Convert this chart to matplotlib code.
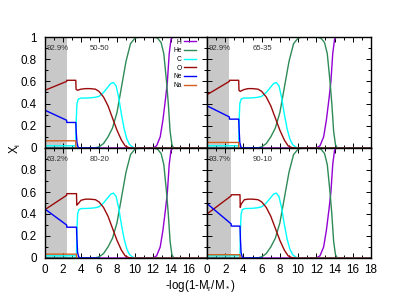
import numpy as np
import matplotlib
matplotlib.use("Agg")
import matplotlib.pyplot as plt
from matplotlib.ticker import MultipleLocator

plt.rcParams["font.family"] = ["Liberation Sans", "DejaVu Sans"]
plt.rcParams["mathtext.fontset"] = "custom"
plt.rcParams["mathtext.rm"] = "Liberation Sans"

# panels: top-left, top-right, bottom-left, bottom-right
mix_labels = ["50-50", "65-35", "80-20", "90-10"]
core_pct = ["92.9%", "92.9%", "63.2%", "93.7%"]
core_edge = [2.4, 2.45, 2.4, 2.65]

# shared outer profiles (He, H)
he_x = [0, 5.5, 6, 6.5, 7, 7.5, 8, 8.5, 9, 9.5, 10, 10.5, 12, 12.5, 12.9, 13.2, 13.5, 13.7, 13.9, 14.1, 14.3, 18]
he_y = [0, 0, 0.01, 0.04, 0.1, 0.18, 0.32, 0.55, 0.78, 0.94, 0.99, 1.0, 1.0, 0.99, 0.95, 0.85, 0.6, 0.4, 0.15, 0.03, 0, 0]
h_x = [0, 12, 12.4, 12.8, 13.1, 13.4, 13.6, 13.8, 14.0, 14.2, 18]
h_y = [0, 0, 0.02, 0.1, 0.25, 0.45, 0.6, 0.85, 0.98, 1.0, 1.0]

# O: per-panel inner part + shared envelope
o_head_x = [[0, 2.4, 2.42, 3.42, 3.45, 3.6, 4.0],
            [0, 2.45, 2.47, 3.48, 3.51, 3.65, 4.0],
            [0, 2.4, 2.42, 3.5, 3.53, 3.65, 4.0],
            [0, 2.65, 2.67, 3.62, 3.65, 3.75, 4.1]]
o_head_y = [[0.52, 0.60, 0.61, 0.61, 0.53, 0.52, 0.53],
            [0.48, 0.60, 0.61, 0.61, 0.52, 0.51, 0.525],
            [0.44, 0.57, 0.585, 0.585, 0.48, 0.49, 0.525],
            [0.40, 0.565, 0.575, 0.575, 0.46, 0.49, 0.53]]
o_tail_x = [4.5, 5, 5.6, 6, 6.5, 7, 7.5, 8, 8.5, 8.9, 9.3, 9.7, 18]
o_tail_y = [0.535, 0.535, 0.53, 0.51, 0.46, 0.38, 0.27, 0.16, 0.07, 0.02, 0.003, 0, 0]

# C: per-panel inner part + shared envelope
c_head_x = [[0, 3.42, 3.47, 3.55, 3.7, 4.0],
            [0, 3.48, 3.53, 3.6, 3.75, 4.0],
            [0, 3.5, 3.55, 3.62, 3.77, 4.05],
            [0, 3.62, 3.67, 3.74, 3.88, 4.15]]
c_head_y = [[0.02, 0.02, 0.25, 0.4, 0.44, 0.45],
            [0.02, 0.02, 0.25, 0.4, 0.44, 0.45],
            [0.02, 0.02, 0.25, 0.4, 0.44, 0.45],
            [0.02, 0.02, 0.25, 0.4, 0.44, 0.45]]
c_tail_x = [4.5, 5, 5.5, 6, 6.5, 7, 7.3, 7.6, 7.9, 8.2, 8.5, 8.8, 9.1, 9.4, 9.8, 10.2, 18]
c_tail_y = [0.45, 0.452, 0.456, 0.465, 0.5, 0.55, 0.58, 0.59, 0.56, 0.45, 0.3, 0.17, 0.08, 0.03, 0.005, 0, 0]

# Ne
ne_x = [[0, 2.4, 2.42, 3.42, 3.47, 3.55, 3.67, 3.8, 6],
        [0, 2.45, 2.47, 3.48, 3.53, 3.6, 3.72, 3.85, 6],
        [0, 2.4, 2.42, 3.5, 3.55, 3.62, 3.75, 3.9, 6],
        [0, 2.65, 2.67, 3.62, 3.67, 3.74, 3.86, 4.0, 6]]
ne_y = [[0.34, 0.25, 0.23, 0.23, 0.14, 0.05, 0.01, 0, 0],
        [0.38, 0.28, 0.26, 0.26, 0.16, 0.05, 0.01, 0, 0],
        [0.445, 0.30, 0.28, 0.28, 0.17, 0.05, 0.01, 0, 0],
        [0.495, 0.31, 0.29, 0.29, 0.17, 0.05, 0.01, 0, 0]]

# Na
na_x = [[0, 3.42, 3.43], [0, 3.48, 3.49], [0, 3.5, 3.51], [0, 3.62, 3.63]]
na_y = [[0.065, 0.065, 0], [0.05, 0.05, 0], [0.035, 0.035, 0], [0.03, 0.03, 0]]

colors = {"H": "#9400d3", "He": "#2e8b57", "C": "#00ffff",
          "O": "#9b0a0a", "Ne": "#0000ff", "Na": "#d2601e"}

fig = plt.figure(figsize=(4.15, 2.97), dpi=100)
W, H = 415, 297
left, split, right = 45, 207, 371
top, mid, bot = 37, 148, 258
boxes = [(left, top, split, mid), (split, top, right, mid),
         (left, mid, split, bot), (split, mid, right, bot)]

for i, (x0, y0, x1, y1) in enumerate(boxes):
    ax = fig.add_axes([x0 / W, 1 - y1 / H, (x1 - x0) / W, (y1 - y0) / H])
    ax.axvspan(0, core_edge[i], color="#c8c8c8", lw=0, zorder=0)
    lw = 1.0
    ax.plot(h_x, h_y, color=colors["H"], lw=lw, label="H")
    ax.plot(he_x, he_y, color=colors["He"], lw=lw, label="He")
    ax.plot(c_head_x[i] + c_tail_x, c_head_y[i] + c_tail_y, color=colors["C"], lw=lw, label="C")
    ax.plot(o_head_x[i] + o_tail_x, o_head_y[i] + o_tail_y, color=colors["O"], lw=lw, label="O")
    ax.plot(ne_x[i], ne_y[i], color=colors["Ne"], lw=lw, label="Ne")
    ax.plot(na_x[i], na_y[i], color=colors["Na"], lw=lw, label="Na")

    ax.set_xlim(0, 18)
    ax.set_ylim(0, 1)
    ax.xaxis.set_major_locator(MultipleLocator(2))
    ax.xaxis.set_minor_locator(MultipleLocator(1))
    ax.yaxis.set_major_locator(MultipleLocator(0.2))
    ax.yaxis.set_minor_locator(MultipleLocator(0.1))
    ax.tick_params(which="both", direction="in", top=True, right=True, width=0.7)
    ax.tick_params(which="major", length=3.5, labelsize=8.4)
    ax.tick_params(which="minor", length=2)
    ax.tick_params(axis="x", pad=4)
    ax.tick_params(axis="y", pad=6)
    for s in ax.spines.values():
        s.set_linewidth(1.0)

    ax.text(0.2, 0.9, core_pct[i], fontsize=5.6, color="#333333", va="center")
    ax.text(5.0, 0.9, mix_labels[i], fontsize=5.6, color="#333333", va="center")

    if i % 2 == 1:
        ax.set_yticklabels([])
    else:
        ax.set_yticks([0, 0.2, 0.4, 0.6, 0.8, 1.0])
        ax.set_yticklabels(["0", "0.2", "0.4", "0.6", "0.8", "1"] if i == 0
                           else ["0", "0.2", "0.4", "0.6", "0.8", ""])
    if i < 2:
        ax.set_xticklabels([])
    elif i == 2:
        ax.set_xticks(range(0, 19, 2))
        ax.set_xticklabels([str(v) for v in range(0, 17, 2)] + [""])
    if i == 0:
        ax.legend(loc="upper right", bbox_to_anchor=(0.935, 0.985),
                  markerfirst=False, frameon=False, fontsize=4.8,
                  handlelength=1.8, labelspacing=0.25, borderaxespad=0,
                  handletextpad=0.45, borderpad=0)

fig.text(15 / W, 1 - mid / H, r"X$_{\rm i}$", rotation=90, fontsize=8.3,
         ha="center", va="center")
fig.text(200 / W, 1 - 286 / H, r"-log(1-M$_{\rm r}$/M$_*$)", fontsize=8.3,
         ha="center", va="center")

fig.savefig("out.png", dpi=100)
